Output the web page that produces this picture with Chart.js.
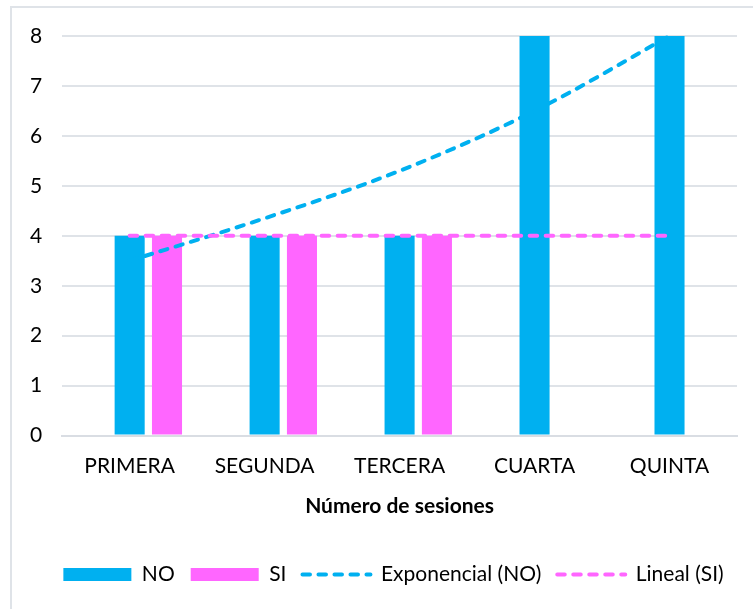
<!DOCTYPE html>
<html>
<head>
<meta charset="utf-8">
<script src="https://cdn.jsdelivr.net/npm/chart.js@4/dist/chart.umd.min.js"></script>
<style>
  html, body { margin: 0; padding: 0; background: #fff; overflow: hidden; }
  #frame { position: absolute; left: 10px; top: 6px; width: 800px; height: 700px; border: 2px solid #dfe3e8; }
  #wrap { position: absolute; left: 0; top: 0; width: 753px; height: 609px; }
</style>
</head>
<body>
<div id="frame"></div>
<div id="wrap"><canvas id="chart" width="753" height="609"></canvas></div>
<script>
// sessions on the x axis
var sessions = ["PRIMERA", "SEGUNDA", "TERCERA", "CUARTA", "QUINTA"];
// empty slot that the original chart keeps left of NO
var emptySlot = [null, null, null, null, null];
var noValues = [4, 4, 4, 8, 8];
var siValues = [4, 4, 4, null, null];
// trend lines
var expNoValues = [3.5, 4.35, 5.3, 6.5, 8.0];
var linSiValues = [4, 4, 4, 4, 4];
var yTicks = [0, 1, 2, 3, 4, 5, 6, 7, 8];

var blue = "#00b0f0";
var pink = "#ff66ff";
var font = "Lato";

// the legend sits a bit right of centre in the original
var legendShift = {
  id: "legendShift",
  afterUpdate: function(chart) {
    chart.legend.left += 20;
    chart.legend.right += 20;
  }
};

new Chart("chart", {
  type: "bar",
  data: {
    labels: sessions,
    datasets: [{
      label: "",
      data: emptySlot,
      backgroundColor: "rgba(0,0,0,0)",
      order: 3
    }, {
      label: "NO",
      data: noValues,
      backgroundColor: blue,
      borderWidth: 0,
      pointStyle: "rect",
      order: 3
    }, {
      label: "SI",
      data: siValues,
      backgroundColor: pink,
      borderWidth: 0,
      pointStyle: "rect",
      order: 3
    }, {
      type: "line",
      label: "Exponencial (NO)",
      data: expNoValues,
      borderColor: blue,
      backgroundColor: blue,
      borderWidth: 4,
      borderDash: [7.5, 8.5],
      borderCapStyle: "round",
      cubicInterpolationMode: "monotone",
      pointRadius: 0,
      pointStyle: "line",
      clip: false,
      order: 1
    }, {
      type: "line",
      label: "Lineal (SI)",
      data: linSiValues,
      borderColor: pink,
      backgroundColor: pink,
      borderWidth: 4,
      borderDash: [7.5, 8.5],
      borderCapStyle: "round",
      pointRadius: 0,
      pointStyle: "line",
      clip: false,
      order: 0
    }]
  },
  options: {
    responsive: false,
    animation: false,
    layout: { padding: { left: 10, right: 16, top: 36, bottom: 14 } },
    datasets: {
      bar: { categoryPercentage: 0.83, barPercentage: 0.805 }
    },
    plugins: {
      tooltip: { enabled: false },
      legend: {
        position: "bottom",
        labels: {
          font: { family: font, size: 21 },
          color: "#000",
          usePointStyle: true,
          pointStyleWidth: 68,
          boxWidth: 68,
          boxHeight: 13,
          padding: 16,
          filter: function(item) { return item.text !== ""; },
          sort: function(a, b) { return a.datasetIndex - b.datasetIndex; },
          generateLabels: function(chart) {
            var items = Chart.defaults.plugins.legend.labels.generateLabels(chart);
            items.forEach(function(it) {
              var ds = chart.data.datasets[it.datasetIndex];
              if (ds.type === "line") {
                it.lineWidth = ds.borderWidth;
                it.lineDash = ds.borderDash;
                it.lineCap = ds.borderCapStyle;
                it.strokeStyle = ds.borderColor;
              }
            });
            return items;
          }
        }
      }
    },
    scales: {
      x: {
        grid: { display: false, drawTicks: false },
        border: { color: "#d9dde3", width: 2 },
        ticks: { font: { family: font, size: 21 }, color: "#000", padding: 18 },
        title: {
          display: true,
          text: "Número de sesiones",
          font: { family: font, size: 21, weight: "bold" },
          color: "#000",
          padding: { top: -3, bottom: 29 }
        }
      },
      y: {
        min: 0,
        max: 8,
        afterBuildTicks: function(axis) {
          axis.ticks = yTicks.map(function(v) { return { value: v }; });
        },
        grid: { color: "#dfe3e8", lineWidth: 2, drawTicks: false },
        border: { display: false },
        ticks: { font: { family: font, size: 21 }, color: "#000", padding: 20 }
      }
    }
  },
  plugins: [legendShift]
});
</script>
</body>
</html>
